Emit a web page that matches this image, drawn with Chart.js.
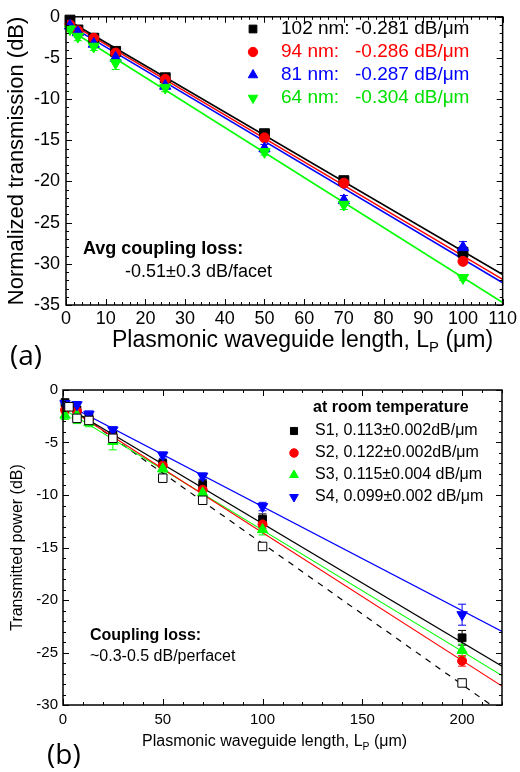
<!DOCTYPE html>
<html lang="en">
<head>
<meta charset="UTF-8">
<title>Plasmonic waveguide propagation loss</title>
<script src="https://cdn.jsdelivr.net/npm/chart.js"></script>
<style>
    html, body { margin: 0; padding: 0; background: #fff; }
    body { width: 520px; height: 772px; position: relative; overflow: hidden;
           font-family: Arial, "Liberation Sans", Helvetica, sans-serif; }
    .box { position: absolute; left: 0; width: 520px; }
    #boxA { top: 0; height: 360px; }
    #boxB { top: 370px; height: 402px; }
    canvas { display: block; }
    .txt { position: absolute; white-space: nowrap; line-height: 1; color: #000; }
    .panel { font-family: "Open Sans", "Noto Sans", sans-serif; font-size: 28px; }
    sub { font-size: 0.65em; vertical-align: -0.35em; line-height: 0; }
</style>
</head>
<body>
<div class="box" id="boxA"><canvas id="chartA" width="520" height="360"></canvas></div>
<div class="box" id="boxB"><canvas id="chartB" width="520" height="402"></canvas></div>

<div class="txt" style="left:112px; top:328px; font-size:23px;">Plasmonic waveguide length, L<sub>P</sub> (&mu;m)</div>
<div class="txt panel" style="left:10px; top:340px;">(a)</div>
<div class="txt" style="left:83px; top:239px; font-size:18px; font-weight:bold;">Avg coupling loss:</div>
<div class="txt" style="left:125px; top:262px; font-size:18px;">-0.51&plusmn;0.3 dB/facet</div>

<div class="txt" style="left:142px; top:733px; font-size:16px;">Plasmonic waveguide length, L<sub>P</sub> (&mu;m)</div>
<div class="txt panel" style="left:47px; top:739px;">(b)</div>
<div class="txt" style="left:90px; top:627px; font-size:16px; font-weight:bold;">Coupling loss:</div>
<div class="txt" style="left:90px; top:648px; font-size:16px;">~0.3-0.5 dB/perfacet</div>

<script>
const FONT = 'Arial, "Liberation Sans", Helvetica, sans-serif';

// ---- (a) normalized transmission (dB) vs length (um), four waveguide widths
const lengthA = [1, 3, 7, 12.5, 25, 50, 70, 100];
const trans102nm = [-0.4, -1.6, -2.6, -4.2, -7.4, -14.2, -19.9, -28.6];
const trans94nm  = [-1.0, -1.7, -2.6, -4.4, -7.6, -14.7, -20.2, -29.7];
const trans81nm  = [-1.1, -1.9, -3.3, -5.0, -8.4, -16.0, -22.3, -28.0];
const trans64nm  = [-1.5, -2.4, -3.6, -5.6, -8.6, -16.4, -22.8, -31.7];
const err102nm = [0.3, 0.3, 0.3, 0.3, 0.3, 0.3, 0.5, 0.5];
const err94nm  = [0.3, 0.3, 0.3, 0.3, 0.3, 0.3, 0.3, 0.4];
const err81nm  = [0.3, 0.6, 0.4, 0.4, 0.4, 0.5, 0.6, 0.7];
const err64nm  = [0.3, 0.5, 0.5, 0.8, 0.5, 0.4, 0.6, 0.3];
// fit lines, end points
const fitLengthA = [0, 110];
const fit102nm = [-0.3, -31.3];
const fit94nm  = [-0.5, -31.9];
const fit81nm  = [-0.8, -32.3];
const fit64nm  = [-1.3, -34.7];
const legendNamesA = ['102 nm:', '94 nm:', '81 nm:', '64 nm:'];
const legendLossA = ['-0.281 dB/\u03bcm', '-0.286 dB/\u03bcm', '-0.287 dB/\u03bcm', '-0.304 dB/\u03bcm'];
const xTicksA = [0, 10, 20, 30, 40, 50, 60, 70, 80, 90, 100, 110];
const yTicksA = [0, -5, -10, -15, -20, -25, -30, -35];

// ---- (b) transmitted power (dB) vs length (um), samples S1..S4 + reference
const lengthB = [1, 7, 13, 25, 50, 70, 100, 200];
const powerS1 = [-1.2, -1.9, -2.6, -4.3, -7.0, -9.0, -12.3, -23.6];
const powerS2 = [-1.9, -2.0, -2.8, -4.5, -7.2, -9.5, -12.8, -25.8];
const powerS3 = [-2.4, -2.4, -3.1, -4.9, -7.5, -9.8, -13.3, -24.8];
const powerS4 = [-1.3, -1.4, -2.3, -3.8, -6.2, -8.2, -11.1, -21.4];
const errS1 = [0.2, 0.3, 0.3, 0.3, 0.3, 0.5, 0.5, 0.7];
const errS2 = [0.3, 0.3, 0.3, 0.3, 0.3, 0.3, 0.4, 0.5];
const errS3 = [0.4, 0.8, 0.4, 0.8, 0.4, 0.4, 0.5, 0.6];
const errS4 = [0.3, 0.3, 0.3, 0.3, 0.3, 0.3, 0.4, 1.0];
const lengthRef = [3, 7, 13, 25, 50, 70, 100, 200];
const powerRef = [-1.6, -2.7, -2.9, -4.6, -8.4, -10.5, -14.9, -27.9];
const fitLengthB = [0, 220];
const fitS1 = [-1.4, -26.3];
const fitS2 = [-1.4, -28.2];
const fitS3 = [-1.8, -27.2];
const fitS4 = [-1.2, -23.0];
const fitLengthRef = [0, 214.5];
const fitRef = [-1.2, -30];
const legendTitleB = 'at room temperature';
const legendNamesB = ['S1, 0.113\u00b10.002dB/\u03bcm', 'S2, 0.122\u00b10.002dB/\u03bcm',
                      'S3, 0.115\u00b10.004 dB/\u03bcm', 'S4, 0.099\u00b10.002 dB/\u03bcm'];
const xTicksB = [0, 50, 100, 150, 200];
const yTicksB = [0, -5, -10, -15, -20, -25, -30];

function pts(xs, ys) {
    return xs.map((x, i) => ({ x: x, y: ys[i] }));
}

function fitLine(xs, ys, color, width, dash) {
    return {
        data: pts(xs, ys), showLine: true, borderColor: color, borderWidth: width,
        borderDash: dash || [], pointRadius: 0, pointHoverRadius: 0, fill: false, order: 20
    };
}

function markers(xs, ys, errs, color, style, r, rot, order, fillColor) {
    return {
        data: pts(xs, ys), errors: errs, showLine: false, clip: false,
        pointStyle: style, pointRadius: r, pointHoverRadius: r, pointRotation: rot,
        backgroundColor: fillColor || color, borderColor: color, borderWidth: 1, order: order
    };
}

// simple marker for the hand-placed legends
function drawMarker(ctx, style, rot, x, y, r, fill, stroke) {
    ctx.save();
    ctx.fillStyle = fill;
    ctx.strokeStyle = stroke;
    ctx.lineWidth = 1;
    ctx.beginPath();
    if (style === 'rect') {
        const s = r * Math.SQRT1_2;
        ctx.rect(x - s, y - s, 2 * s, 2 * s);
    } else if (style === 'circle') {
        ctx.arc(x, y, r * 0.85, 0, Math.PI * 2);
    } else {
        const d = rot === 180 ? -1 : 1;
        ctx.moveTo(x, y - d * r);
        ctx.lineTo(x + r * 0.866, y + d * r / 2);
        ctx.lineTo(x - r * 0.866, y + d * r / 2);
        ctx.closePath();
    }
    ctx.fill();
    ctx.stroke();
    ctx.restore();
}

const errorBarPlugin = {
    id: 'errorBars',
    beforeDatasetsDraw(chart, args, opts) {
        const ctx = chart.ctx;
        const yScale = chart.scales.y;
        chart.data.datasets.forEach((ds, i) => {
            if (!ds.errors) return;
            const meta = chart.getDatasetMeta(i);
            ctx.save();
            ctx.strokeStyle = ds.borderColor;
            ctx.lineWidth = 1;
            ctx.beginPath();
            meta.data.forEach((pt, j) => {
                const v = ds.data[j].y, e = ds.errors[j];
                const top = yScale.getPixelForValue(v + e);
                const bot = yScale.getPixelForValue(v - e);
                ctx.moveTo(pt.x, top); ctx.lineTo(pt.x, bot);
                ctx.moveTo(pt.x - opts.cap, top); ctx.lineTo(pt.x + opts.cap, top);
                ctx.moveTo(pt.x - opts.cap, bot); ctx.lineTo(pt.x + opts.cap, bot);
            });
            ctx.stroke();
            ctx.restore();
        });
    }
};

// box around the plot with inward major / minor ticks on all four sides
const framePlugin = {
    id: 'frame',
    afterDatasetsDraw(chart, args, opts) {
        const ctx = chart.ctx, a = chart.chartArea;
        const xs = chart.scales.x, ys = chart.scales.y;
        const isMajor = (v, step) => Math.abs(v / step - Math.round(v / step)) < 1e-6;
        ctx.save();
        ctx.strokeStyle = '#000';
        ctx.lineWidth = 1;
        ctx.beginPath();
        for (let v = xs.min; v <= xs.max + 1e-9; v += opts.xMinor) {
            const px = Math.round(xs.getPixelForValue(v)) + 0.5;
            const len = isMajor(v, opts.xMajor) ? opts.major : opts.minor;
            ctx.moveTo(px, a.bottom); ctx.lineTo(px, a.bottom - len);
            ctx.moveTo(px, a.top); ctx.lineTo(px, a.top + len);
        }
        for (let v = ys.min; v <= ys.max + 1e-9; v += opts.yMinor) {
            const py = Math.round(ys.getPixelForValue(v)) + 0.5;
            const len = isMajor(v, opts.yMajor) ? opts.major : opts.minor;
            ctx.moveTo(a.left, py); ctx.lineTo(a.left + len, py);
            ctx.moveTo(a.right, py); ctx.lineTo(a.right - len, py);
        }
        ctx.stroke();
        ctx.lineWidth = opts.lineWidth;
        ctx.strokeRect(a.left, a.top, a.right - a.left, a.bottom - a.top);
        ctx.restore();
    }
};

const legendBoxPlugin = {
    id: 'legendBox',
    afterDraw(chart, args, opts) {
        const ctx = chart.ctx;
        ctx.save();
        ctx.textBaseline = 'middle';
        ctx.textAlign = 'left';
        if (opts.title) {
            ctx.font = 'bold ' + opts.size + 'px ' + FONT;
            ctx.fillStyle = '#000';
            ctx.fillText(opts.title, opts.titleX, opts.titleY);
        }
        opts.items.forEach((it, k) => {
            const ds = chart.data.datasets[it.dataset];
            const y = opts.rows[k];
            drawMarker(ctx, ds.pointStyle, ds.pointRotation, opts.markerX, y, opts.markerR,
                       ds.backgroundColor, ds.borderColor);
            ctx.font = opts.size + 'px ' + FONT;
            ctx.fillStyle = it.color;
            ctx.fillText(it.name, opts.textX, y);
            if (it.value) ctx.fillText(it.value, opts.valueX, y);
        });
        ctx.restore();
    }
};

function axis(min, max, tickValues, fontSize, pad, fitSize, horizontal) {
    return {
        type: 'linear', min: min, max: max,
        grid: { display: false, drawTicks: false },
        border: { display: false },
        afterBuildTicks: (scale) => { scale.ticks = tickValues.map(v => ({ value: v })); },
        afterFit: (scale) => { if (horizontal) scale.height = fitSize; else scale.width = fitSize; },
        ticks: {
            color: '#000', padding: pad, autoSkip: false, maxRotation: 0,
            font: { family: FONT, size: fontSize },
            callback: (v) => String(v)
        }
    };
}

// ---------- chart (a)
const red = '#ff0000', blue = '#0000ff', green = '#00ff00', black = '#000000';

const yA = axis(-35, 0, yTicksA, 18, 6, 66, false);
yA.title = { display: true, text: 'Normalized transmission (dB)', color: '#000',
             font: { family: FONT, size: 22 }, padding: { top: 4, bottom: 0 } };

const ctxA = document.getElementById('chartA').getContext('2d');
const chartA = new Chart(ctxA, {
    type: 'scatter',
    data: {
        datasets: [
            markers(lengthA, trans102nm, err102nm, black, 'rect', 7, 0, 3),
            markers(lengthA, trans94nm, err94nm, red, 'circle', 5, 0, 2),
            markers(lengthA, trans81nm, err81nm, blue, 'triangle', 6.5, 0, 1),
            markers(lengthA, trans64nm, err64nm, green, 'triangle', 6.5, 180, 0),
            fitLine(fitLengthA, fit102nm, black, 1.5),
            fitLine(fitLengthA, fit94nm, red, 1.5),
            fitLine(fitLengthA, fit81nm, blue, 1.5),
            fitLine(fitLengthA, fit64nm, green, 1.5)
        ]
    },
    options: {
        responsive: false,
        animation: false,
        layout: { padding: { top: 12, right: 16, left: 0, bottom: 0 } },
        scales: {
            x: axis(0, 110, xTicksA, 18, 3, 55, true),
            y: yA
        },
        plugins: {
            legend: { display: false },
            tooltip: { enabled: false },
            errorBars: { cap: 4 },
            frame: { xMinor: 2, xMajor: 10, yMinor: 1, yMajor: 5, major: 6, minor: 3, lineWidth: 1.5 },
            legendBox: {
                size: 19, markerX: 253, markerR: 5.5, textX: 281, valueX: 355,
                rows: [29, 52, 75, 98],
                items: [
                    { dataset: 0, name: legendNamesA[0], value: legendLossA[0], color: black },
                    { dataset: 1, name: legendNamesA[1], value: legendLossA[1], color: red },
                    { dataset: 2, name: legendNamesA[2], value: legendLossA[2], color: blue },
                    { dataset: 3, name: legendNamesA[3], value: legendLossA[3], color: '#00e000' }
                ]
            }
        }
    },
    plugins: [errorBarPlugin, framePlugin, legendBoxPlugin]
});

// ---------- chart (b)
const yB = axis(-30, 0, yTicksB, 15, 5, 63, false);
yB.title = { display: true, text: 'Transmitted power (dB)', color: '#000',
             font: { family: FONT, size: 16 }, padding: { top: 8, bottom: 0 } };

const ctxB = document.getElementById('chartB').getContext('2d');
const chartB = new Chart(ctxB, {
    type: 'scatter',
    data: {
        datasets: [
            markers(lengthB, powerS1, errS1, black, 'rect', 5.5, 0, 4),
            markers(lengthB, powerS2, errS2, red, 'circle', 4.5, 0, 3),
            markers(lengthB, powerS3, errS3, green, 'triangle', 6, 0, 2),
            markers(lengthB, powerS4, errS4, blue, 'triangle', 6, 180, 1),
            markers(lengthRef, powerRef, null, black, 'rect', 6, 0, 0, '#ffffff'),
            fitLine(fitLengthB, fitS1, black, 1.2),
            fitLine(fitLengthB, fitS2, red, 1.2),
            fitLine(fitLengthB, fitS3, green, 1.2),
            fitLine(fitLengthB, fitS4, blue, 1.2),
            fitLine(fitLengthRef, fitRef, black, 1.2, [6, 6])
        ]
    },
    options: {
        responsive: false,
        animation: false,
        layout: { padding: { top: 20, right: 18, left: 0, bottom: 0 } },
        scales: {
            x: axis(0, 220, xTicksB, 15, 6, 67, true),
            y: yB
        },
        plugins: {
            legend: { display: false },
            tooltip: { enabled: false },
            errorBars: { cap: 4 },
            frame: { xMinor: 10, xMajor: 50, yMinor: 1, yMajor: 5, major: 6, minor: 3, lineWidth: 1.5 },
            legendBox: {
                size: 16, markerX: 294, markerR: 5, textX: 315,
                title: legendTitleB, titleX: 313, titleY: 38,
                rows: [61, 83, 105, 127],
                items: [
                    { dataset: 0, name: legendNamesB[0], color: black },
                    { dataset: 1, name: legendNamesB[1], color: black },
                    { dataset: 2, name: legendNamesB[2], color: black },
                    { dataset: 3, name: legendNamesB[3], color: black }
                ]
            }
        }
    },
    plugins: [errorBarPlugin, framePlugin, legendBoxPlugin]
});
</script>
</body>
</html>
